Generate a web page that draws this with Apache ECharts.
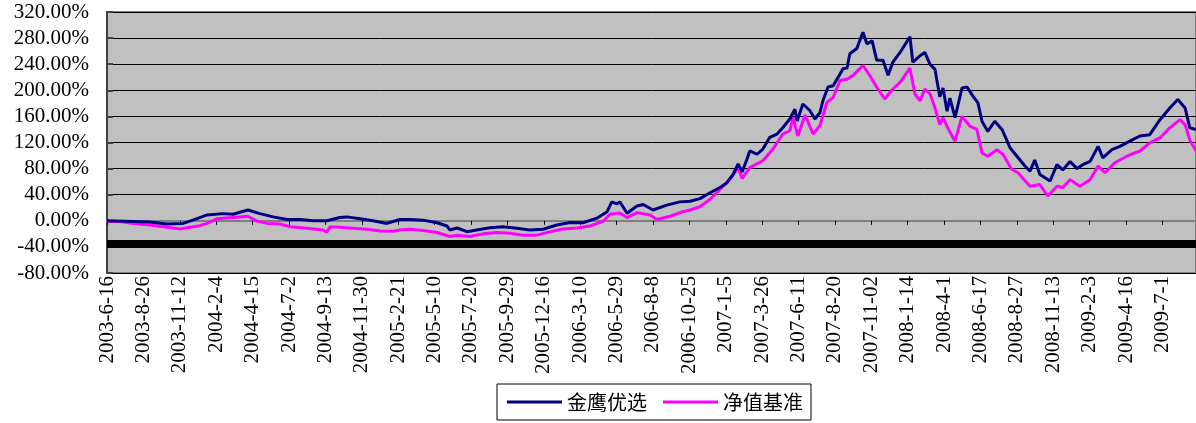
<!DOCTYPE html>
<html>
<head>
<meta charset="utf-8">
<script src="https://cdn.jsdelivr.net/npm/echarts@6/dist/echarts.min.js"></script>
<style>
html,body{margin:0;padding:0;background:#fff;}
#c{width:1196px;height:423px;}
</style>
</head>
<body>
<div id="c"></div>
<script>
// X unit: one label interval = 10 units
const tickLabels = ['2003-6-16','2003-8-26','2003-11-12','2004-2-4','2004-4-15','2004-7-2','2004-9-13','2004-11-30','2005-2-21','2005-5-10','2005-7-20','2005-9-29','2005-12-16','2006-3-10','2006-5-29','2006-8-8','2006-10-25','2007-1-5','2007-3-26','2007-6-11','2007-8-20','2007-11-02','2008-1-14','2008-4-1','2008-6-17','2008-8-27','2008-11-13','2009-2-3','2009-4-16','2009-7-1'];
const seriesNames = ['金鹰优选','净值基准'];

const fundData = [[0,0],[7.1,-1],[11.8,-2],[16.5,-5],[20.9,-4],[23.6,1],[25.5,5],[27.5,9],[31.9,11],[34.6,10],[38.7,16.5],[42,11],[45.6,6],[49.5,2],[53,2],[56.6,0],[60.4,0],[64,5],[65.9,6],[69.5,3],[73.1,0],[76.9,-4],[78.6,-1],[80.5,2],[83.2,2],[86.8,1],[90.7,-3],[93.4,-8],[94.2,-14],[96.2,-11],[98.9,-16.7],[101.6,-14],[105.2,-10.5],[108.8,-9],[112.6,-11.5],[116.2,-14],[119.8,-13],[123.6,-6.5],[127.2,-2.5],[130.8,-3],[134.6,4],[137.4,14],[138.7,29],[140.1,26],[140.9,29],[142.9,11.5],[145.6,22.7],[147.3,25],[150,16.5],[153.8,24],[157.4,29],[160.2,30],[162.9,34],[165.7,43],[168.4,51],[170.3,58],[172,71],[173.4,87],[174.5,75],[175.8,94],[176.6,107],[178.6,102],[180.2,110],[182.1,128],[184.1,133],[185.7,143],[187.6,156],[189,171],[189.6,153],[191.2,179],[193.1,169],[194.5,156],[195.9,166],[196.7,184],[198.1,205],[199.5,207],[201.4,225],[202.2,233],[203.3,234],[204.1,256],[206,264],[207.7,289],[208.8,271],[210.2,276],[211.5,246],[213.2,246],[214.6,223],[215.9,243],[217.9,258],[220.6,282],[221.4,243],[223.4,253],[224.7,258],[226.1,240],[227.5,232],[228.8,190],[229.7,203.5],[230.8,168],[231.6,188],[233,158],[234.9,203.5],[236.3,205],[237.9,191],[239.3,180.6],[240.4,152.6],[242,137],[243.9,152.6],[245.9,140],[248.1,112],[250,99],[252.2,84],[253.6,76],[254.9,93],[256.3,71],[259.1,61],[261,86],[262.6,78],[264.6,91],[266.5,80],[268.1,86],[270.1,91],[272.3,114],[273.6,96.6],[276.1,109],[278.3,114],[281,122],[283.8,130],[286.5,132],[289.3,155],[292,173],[294.2,186],[296.2,173],[297.5,142.5],[299.2,140]];

const benchData = [[0,-1],[3.6,-1],[7.1,-4],[11.8,-6.5],[16.5,-10],[20.1,-12.5],[22.8,-10],[25.5,-7.5],[27.5,-4],[30.2,3],[34.6,5],[38.7,7],[41.2,-0.5],[44,-4],[47.5,-5],[50.3,-9],[54.9,-11.5],[59.3,-14],[60.4,-17.6],[61.3,-9],[64,-10],[67.6,-11.5],[71.4,-13],[75,-15.6],[78.6,-16],[80.5,-14],[83.2,-13],[86.8,-15],[90.7,-18],[94.2,-24],[96.2,-22],[99.7,-24],[103.3,-20],[107.1,-18],[110.7,-19],[114.3,-22],[118.1,-22],[121.7,-17],[125.3,-12.5],[129.1,-11],[132.7,-8],[136.3,-1],[138.2,10],[140.9,12],[142.9,5],[145.6,12.5],[149.2,9],[151.1,2],[154.7,7],[158.2,14],[160.2,16.5],[162.9,21.5],[165.7,33],[168.4,48],[171.2,64],[173.4,81.5],[174.5,65],[176.6,81.5],[180.2,92],[183,110],[185.7,133],[187.6,138],[188.5,158.5],[189.8,130],[191.8,162],[194,133],[195.9,146],[197.8,181.5],[199.5,189],[201.4,215],[203.3,217],[204.9,222.5],[207.7,238],[209.6,222.5],[211.5,204.6],[213.7,186.7],[215.9,202],[217.9,212],[220.6,234],[222,194],[223.4,184],[224.7,202],[226.1,195],[227.5,173],[228.8,147.5],[229.7,158],[231,142.5],[233,122],[234.9,160],[237.1,145],[239,140],[240.4,104],[242,99],[244.5,109],[246.2,101.6],[248.6,78.6],[250.3,73.6],[253.6,53],[256.3,55.5],[258.5,38],[261,53],[262.6,51],[264.6,63],[267.3,53],[270.1,63],[272.3,84],[274.2,73.6],[276.9,89],[280.2,99],[283.8,107],[286.5,119.5],[289.3,127],[292,142.5],[294.8,155],[296.2,147.5],[297.5,124],[299.2,107]];

const bandLevel = -35.5;
const yTicks = {min: -80, max: 320, step: 40};
const xMax = 299.2;

const chart = echarts.init(document.getElementById('c'), null, {renderer: 'canvas'});
const serif = 'Liberation Serif';
chart.setOption({
  animation: false,
  backgroundColor: '#ffffff',
  grid: {
    left: 107, right: 0, top: 12, bottom: 150,
    show: true, backgroundColor: '#c0c0c0', borderColor: '#808080', borderWidth: 2
  },
  legend: {
    left: 497, top: 384,
    padding: [8, 8, 8, 10],
    borderColor: '#000', borderWidth: 1,
    itemWidth: 55, itemHeight: 3, itemGap: 16,
    icon: 'rect',
    textStyle: {fontFamily: 'Noto Sans CJK SC', fontSize: 20, color: '#000', padding: [0,0,0,0]},
    data: seriesNames
  },
  xAxis: {
    type: 'value', min: 0, max: xMax, interval: 10,
    splitLine: {show: false},
    axisLine: {show: true, lineStyle: {color: '#808080', width: 2}},
    axisTick: {show: true, inside: false, length: 4, lineStyle: {color: '#000'}},
    axisLabel: {
      rotate: 90, margin: 3, showMaxLabel: false,
      fontFamily: serif, fontSize: 21, color: '#000',
      formatter: v => tickLabels[Math.round(v / 10)] || ''
    }
  },
  yAxis: {
    type: 'value', min: yTicks.min, max: yTicks.max, interval: yTicks.step,
    axisLine: {show: true, lineStyle: {color: '#404040', width: 2}},
    axisTick: {show: true, inside: true, length: 6, lineStyle: {color: '#404040', width: 2}},
    splitLine: {show: true, lineStyle: {color: '#000', width: 1}},
    axisLabel: {
      margin: 18, fontFamily: serif, fontSize: 21, color: '#000',
      formatter: v => v.toFixed(2) + '%'
    }
  },
  series: [
    {
      name: seriesNames[0], type: 'line', data: fundData, showSymbol: false, symbol: 'none',
      lineStyle: {color: '#000080', width: 3}, itemStyle: {color: '#000080'}, z: 3,
      markLine: {
        silent: true, symbol: 'none', label: {show: false},
        lineStyle: {color: '#000', width: 8, type: 'solid'},
        data: [{yAxis: bandLevel}]
      }
    },
    {
      name: seriesNames[1], type: 'line', data: benchData, showSymbol: false, symbol: 'none',
      lineStyle: {color: '#ff00ff', width: 3}, itemStyle: {color: '#ff00ff'}, z: 2
    }
  ]
});
</script>
</body>
</html>
